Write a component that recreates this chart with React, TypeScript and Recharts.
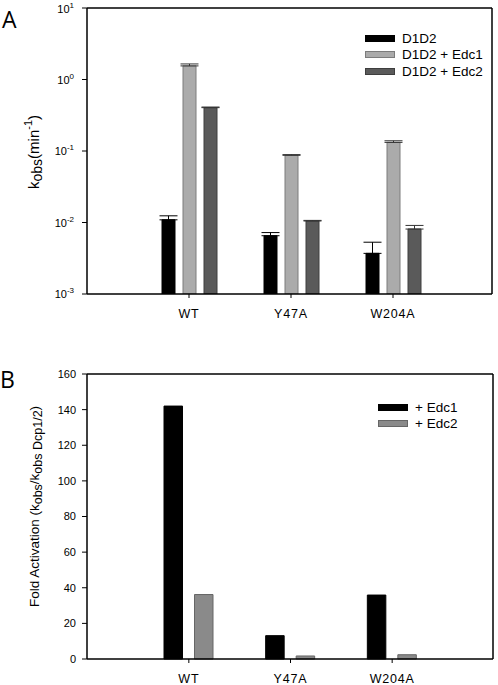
import { Bar, BarChart, CartesianGrid, ErrorBar, Label, Legend, XAxis, YAxis } from 'recharts'

const font = '"Liberation Sans", Arial, sans-serif'

// panel A: k_obs (min^-1), log scale
const categories = ['WT', 'Y47A', 'W204A']
const kobsD1D2 = [0.0109, 0.00653, 0.0037]
const kobsD1D2Err = [0.0015, 0.0007, 0.0016]
const kobsEdc1 = [1.55, 0.087, 0.132]
const kobsEdc1Err = [0.1, 0.002, 0.007]
const kobsEdc2 = [0.404, 0.0105, 0.0081]
const kobsEdc2Err = [0.008, 0.0002, 0.001]
const logTicks = [0.001, 0.01, 0.1, 1, 10]

// panel B: fold activation
const foldEdc1 = [142, 13.1, 35.9]
const foldEdc2 = [36.2, 1.7, 2.4]
const foldTicks = [0, 20, 40, 60, 80, 100, 120, 140, 160]

const seriesA = [
	{ key: 'd1d2', label: 'D1D2', fill: '#000000', stroke: '#000000' },
	{ key: 'edc1', label: 'D1D2 + Edc1', fill: '#ababab', stroke: '#7c7c7c' },
	{ key: 'edc2', label: 'D1D2 + Edc2', fill: '#5a5a5a', stroke: '#3e3e3e' },
]
const seriesB = [
	{ key: 'edc1', label: '+ Edc1', fill: '#000000', stroke: '#000000' },
	{ key: 'edc2', label: '+ Edc2', fill: '#8a8a8a', stroke: '#666666' },
]

const dataA = categories.map((name, i) => ({
	name,
	d1d2: kobsD1D2[i],
	d1d2Err: [0, kobsD1D2Err[i]],
	edc1: kobsEdc1[i],
	edc1Err: [0, kobsEdc1Err[i]],
	edc2: kobsEdc2[i],
	edc2Err: [0, kobsEdc2Err[i]],
}))

const dataB = categories.map((name, i) => ({ name, edc1: foldEdc1[i], edc2: foldEdc2[i] }))

const axisLine = { stroke: '#000', strokeWidth: 1.5 }
const xTick = { fill: '#000', fontSize: 12.5, fontFamily: font, letterSpacing: 0.8 }

// top + right edges of the frame, taken from the plot offset
const topEdge = ({ offset }: any) => [offset.top]
const rightEdge = ({ offset }: any) => [offset.left + offset.width]

const LogTick = (props: any) => {
	const { x, y, payload } = props
	const exp = Math.round(Math.log10(payload.value))
	return (
		<text x={x} y={y} dy={4} textAnchor="end" fontSize={11} fontFamily={font} fill="#000">
			<tspan>10</tspan>
			<tspan dy={-5} fontSize={8}>
				{exp}
			</tspan>
		</text>
	)
}

const renderLegend = (items: typeof seriesA) => () => (
	<div style={{ fontFamily: font, fontSize: 13.5, color: '#000' }}>
		{items.map((it) => (
			<div key={it.key} style={{ display: 'flex', alignItems: 'center', height: 16.5, whiteSpace: 'nowrap' }}>
				<span
					style={{
						display: 'inline-block',
						width: 30,
						height: 7,
						background: it.fill,
						border: `1px solid ${it.stroke}`,
						boxSizing: 'border-box',
						marginRight: 7,
					}}
				/>
				{it.label}
			</div>
		))}
	</div>
)

const KobsLabel = (props: any) => {
	const { viewBox } = props
	const cx = 33
	const cy = viewBox.y + viewBox.height / 2 + 1
	return (
		<text x={cx} y={cy} transform={`rotate(-90 ${cx} ${cy})`} textAnchor="middle" dominantBaseline="central" fontSize={15} fontFamily={font} fill="#000">
			<tspan>k</tspan>
			<tspan dy={4} fontSize={14}>obs</tspan>
			<tspan dy={-4}>(min</tspan>
			<tspan dy={-5} fontSize={11}>-1</tspan>
			<tspan dy={5}>)</tspan>
		</text>
	)
}

const FoldLabel = (props: any) => {
	const { viewBox } = props
	const cx = 34
	const cy = viewBox.y + viewBox.height / 2 - 10
	return (
		<text x={cx} y={cy} transform={`rotate(-90 ${cx} ${cy})`} textAnchor="middle" dominantBaseline="central" fontSize={13.5} fontFamily={font} fill="#000">
			<tspan>Fold Activation (k</tspan>
			<tspan dy={4} fontSize={12.5}>obs</tspan>
			<tspan dy={-4}>/k</tspan>
			<tspan dy={4} fontSize={12.5}>obs Dcp1/2</tspan>
			<tspan dy={-4}>)</tspan>
		</text>
	)
}

const PanelLetter = ({ text, top, left }: { text: string; top: number; left: number }) => (
	<div style={{ position: 'absolute', top, left, fontFamily: '"Open Sans", sans-serif', fontSize: 23, lineHeight: '23px' }}>{text}</div>
)

const App = () => {
	return (
		<div style={{ position: 'absolute', top: 0, left: 0, width: 498, height: 685, background: '#fff' }}>
			<PanelLetter text="A" top={8} left={2} />
			<PanelLetter text="B" top={368} left={0} />

			<div style={{ position: 'absolute', top: 0, left: 0 }}>
				<BarChart width={498} height={335} data={dataA} margin={{ top: 8, right: 6, left: 0, bottom: 11 }} barSize={13} barGap={8}>
					<CartesianGrid
						stroke="#000"
						strokeWidth={1.5}
						horizontalCoordinatesGenerator={topEdge}
						verticalCoordinatesGenerator={rightEdge}
					/>
					<XAxis
						dataKey="name"
						padding={{ left: 51, right: 48 }}
						height={30}
						tickSize={4}
						tickMargin={11}
						axisLine={axisLine}
						tickLine={{ stroke: '#000' }}
						tick={xTick}
					/>
					<YAxis
						scale="log"
						type="number"
						domain={[0.001, 10]}
						ticks={logTicks}
						allowDataOverflow
						width={87}
						tickSize={5}
						tickMargin={8}
						axisLine={axisLine}
						tickLine={{ stroke: '#000' }}
						tick={<LogTick />}
					>
						<Label content={<KobsLabel />} />
					</YAxis>
					<Legend layout="vertical" align="center" verticalAlign="middle" content={renderLegend(seriesA)} wrapperStyle={{ top: 30, left: 365, width: 'auto', height: 'auto' }} />
					{seriesA.map((s) => (
						<Bar key={s.key} dataKey={s.key} name={s.label} fill={s.fill} stroke={s.stroke} strokeWidth={1} isAnimationActive={false}>
							<ErrorBar dataKey={`${s.key}Err`} direction="y" width={9} stroke={s.key === 'd1d2' ? '#000' : '#333'} strokeWidth={1} />
						</Bar>
					))}
				</BarChart>
			</div>

			<div style={{ position: 'absolute', top: 340, left: 0 }}>
				<BarChart width={498} height={345} data={dataB} margin={{ top: 34, right: 5, left: 0, bottom: 2 }} barSize={18.5} barGap={12}>
					<CartesianGrid
						stroke="#000"
						strokeWidth={1.5}
						horizontalCoordinatesGenerator={topEdge}
						verticalCoordinatesGenerator={rightEdge}
					/>
					<XAxis
						dataKey="name"
						padding={{ left: 51, right: 50 }}
						height={24}
						tickSize={4}
						tickMargin={11}
						axisLine={axisLine}
						tickLine={{ stroke: '#000' }}
						tick={xTick}
					/>
					<YAxis
						type="number"
						domain={[0, 160]}
						ticks={foldTicks}
						width={87}
						tickSize={5}
						tickMargin={6}
						axisLine={axisLine}
						tickLine={{ stroke: '#000' }}
						tick={{ fill: '#000', fontSize: 11, fontFamily: font }}
					>
						<Label content={<FoldLabel />} />
					</YAxis>
					<Legend layout="vertical" align="center" verticalAlign="middle" content={renderLegend(seriesB)} wrapperStyle={{ top: 59, left: 378, width: 'auto', height: 'auto' }} />
					{seriesB.map((s) => (
						<Bar key={s.key} dataKey={s.key} name={s.label} fill={s.fill} stroke={s.stroke} strokeWidth={1} isAnimationActive={false} />
					))}
				</BarChart>
			</div>
		</div>
	)
}

export default App
